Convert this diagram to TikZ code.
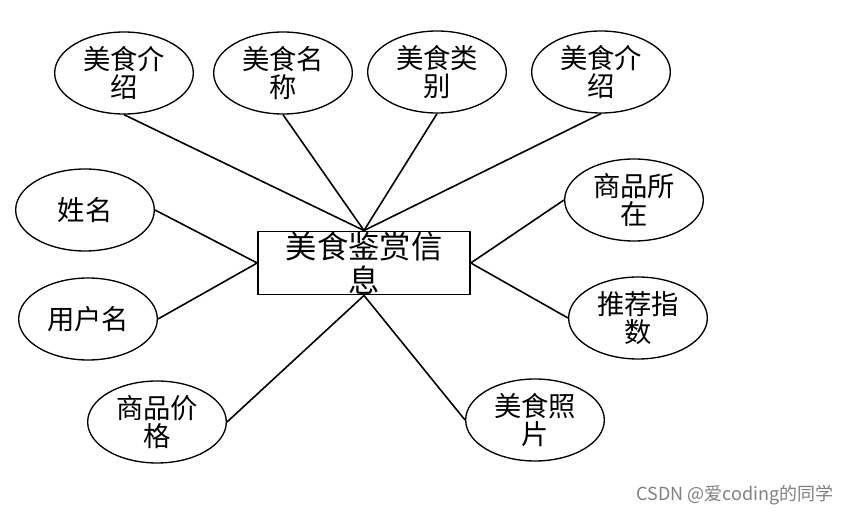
\documentclass[tikz,border=0pt]{standalone}
\usepackage{fontspec}
\setmainfont{Noto Sans CJK SC}
\usetikzlibrary{positioning,shapes.geometric}

\begin{document}
\begin{tikzpicture}[x=0.75pt,y=-0.75pt,line width=1.2pt,
	attr/.style={shape=ellipse,draw=black,line width=1pt,inner sep=0pt,minimum width=104pt,minimum height=61.5pt,align=center,font=\fontsize{20.5}{21}\selectfont},
	entity/.style={draw=black,inner sep=0pt,minimum width=159pt,minimum height=47.5pt,align=center,font=\fontsize{23.5}{25.5}\selectfont}]

		\useasboundingbox (0,0) rectangle (854,516);

		% the entity
		\node[entity] (xinxi) at (364,263) {美食鉴赏信\\息};

		% attributes above
		\node[attr] (jieshao) at (124,73) {美食介\\绍};
		\node[attr] (mingcheng) at (283,73) {美食名\\称};
		\node[attr] (leibie) at (437,72) {美食类\\别};
		\node[attr] (jieshaob) at (601,72) {美食介\\绍};
		\draw (jieshao.south) -- (xinxi.north);
		\draw (mingcheng.south) -- (xinxi.north);
		\draw (leibie.south) -- (xinxi.north);
		\draw (jieshaob.south) -- (xinxi.north);

		% attributes on the left and right
		\node[attr] (xingming) at (85,210) {姓名};
		\node[attr] (yonghu) at (88,319) {用户名};
		\node[attr] (suozai) at (634,200) {商品所\\在};
		\node[attr] (tuijian) at (638,318) {推荐指\\数};
		\draw (xingming.east) -- (xinxi.west);
		\draw (yonghu.east) -- (xinxi.west);
		\draw (suozai.west) -- (xinxi.east);
		\draw (tuijian.west) -- (xinxi.east);

		% attributes below
		\node[attr] (jiage) at (157,422) {商品价\\格};
		\node[attr] (zhaopian) at (535,420) {美食照\\片};
		\draw (jiage.east) -- (xinxi.south);
		\draw (zhaopian.west) -- (xinxi.south);

		% watermark
		\node[text=black!50,font=\fontsize{13.5}{13.5}\selectfont] (mark) at (735,495) {CSDN @爱coding的同学};

	\end{tikzpicture}
\end{document}
